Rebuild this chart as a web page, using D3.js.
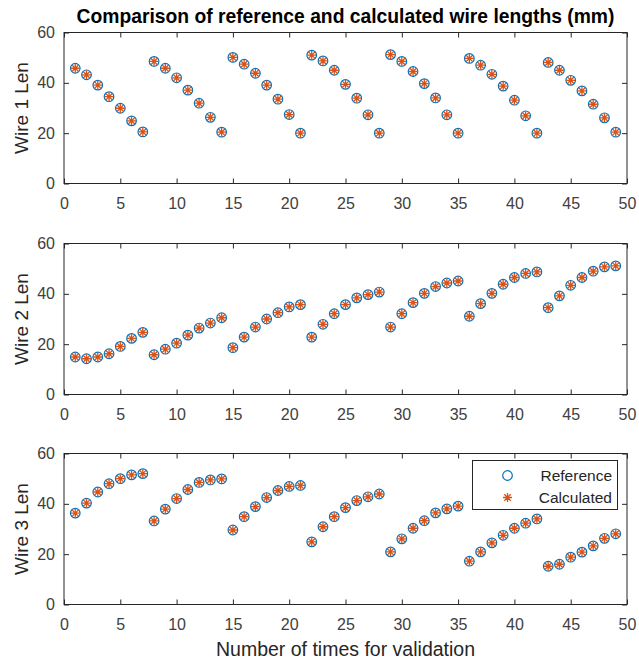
<!DOCTYPE html>
<html>
<head>
<meta charset="utf-8">
<script src="https://cdn.jsdelivr.net/npm/d3@7"></script>
<style>
  body { margin: 0; background: #fff; }
  svg { font-family: "Liberation Sans", Arial, sans-serif; }
  .tick text { fill: #404040; font-size: 16px; }
  .tick line { stroke: #262626; }
</style>
</head>
<body>
<svg width="639" height="665"></svg>
<script>
// wire lengths per validation run (1..49), reference and calculated overlap
var wire1 = [45.8, 43.2, 39.1, 34.5, 29.9, 24.9, 20.5,
             48.5, 45.8, 42.0, 37.1, 31.9, 26.3, 20.4,
             50.1, 47.4, 43.8, 39.1, 33.5, 27.4, 20.0,
             51.0, 48.7, 45.0, 39.4, 33.9, 27.3, 20.0,
             51.2, 48.5, 44.5, 39.7, 34.0, 27.3, 20.0,
             49.7, 47.0, 43.4, 38.7, 33.1, 26.9, 20.0,
             48.1, 45.0, 41.0, 36.8, 31.5, 26.1, 20.4];
var wire2 = [14.9, 14.2, 14.9, 16.2, 19.1, 22.3, 24.7,
             15.8, 18.0, 20.4, 23.6, 26.4, 28.4, 30.5,
             18.6, 22.8, 26.8, 30.0, 32.5, 34.8, 35.7,
             22.8, 27.9, 32.1, 35.7, 38.4, 39.7, 40.7,
             26.8, 32.1, 36.5, 40.2, 42.9, 44.3, 45.1,
             31.1, 36.1, 40.2, 43.8, 46.5, 48.1, 48.7,
             34.5, 39.2, 43.4, 46.5, 49.0, 50.7, 51.1];
var wire3 = [36.3, 40.3, 44.7, 48.0, 50.0, 51.5, 52.0,
             33.2, 37.9, 42.1, 45.7, 48.5, 49.5, 49.9,
             29.6, 34.9, 38.9, 42.5, 45.3, 46.9, 47.3,
             24.9, 30.9, 34.9, 38.5, 41.3, 42.8, 43.9,
             20.9, 26.1, 30.3, 33.3, 36.4, 38.0, 39.1,
             17.2, 20.9, 24.5, 27.5, 30.3, 32.3, 34.0,
             15.2, 16.0, 18.8, 20.8, 23.3, 26.3, 28.1];
var reference = [wire1, wire2, wire3];
var calculated = [wire1.slice(), wire2.slice(), wire3.slice()];
var panelLabels = ['Wire 1 Len', 'Wire 2 Len', 'Wire 3 Len'];
var xTicks = [0, 5, 10, 15, 20, 25, 30, 35, 40, 45, 50];
var yTicks = [0, 20, 40, 60];
var legendNames = ['Reference', 'Calculated'];

var blue = '#0072BD', orange = '#D95319', ink = '#262626';

var svg = d3.select('svg');
var left = 64, right = 627, ph = 151;
var tops = [32.5, 243.5, 453.5];

var x = d3.scaleLinear().domain([0, 50]).range([left, right]);

function star(s) {
  var k = s * 0.72;
  return 'M' + (-s) + ',0L' + s + ',0M0,' + (-s) + 'L0,' + s +
    'M' + (-k) + ',' + (-k) + 'L' + k + ',' + k + 'M' + (-k) + ',' + k + 'L' + k + ',' + (-k);
}

tops.forEach(function(top, p) {
  var y = d3.scaleLinear().domain([0, 60]).range([top + ph, top]);
  var g = svg.append('g');

  g.append('g').attr('transform', 'translate(0,' + (top + ph) + ')')
    .call(d3.axisBottom(x).tickValues(xTicks).tickSize(-5).tickSizeOuter(0).tickPadding(14))
    .call(function(a) { a.select('.domain').remove(); });
  g.append('g').attr('transform', 'translate(0,' + top + ')')
    .call(d3.axisTop(x).tickValues(xTicks).tickSize(-5).tickSizeOuter(0).tickFormat(''))
    .call(function(a) { a.select('.domain').remove(); });
  g.append('g').attr('transform', 'translate(' + left + ',0)')
    .call(d3.axisLeft(y).tickValues(yTicks).tickSize(-5).tickSizeOuter(0).tickPadding(9))
    .call(function(a) { a.select('.domain').remove(); });
  g.append('g').attr('transform', 'translate(' + right + ',0)')
    .call(d3.axisRight(y).tickValues(yTicks).tickSize(-5).tickSizeOuter(0).tickFormat(''))
    .call(function(a) { a.select('.domain').remove(); });

  g.selectAll('.tick text').attr('font-family', null).attr('font-size', null);

  g.append('rect')
    .attr('x', left).attr('y', top).attr('width', right - left).attr('height', ph)
    .attr('fill', 'none').attr('stroke', ink).attr('stroke-width', 1);

  g.append('g').selectAll('circle')
    .data(reference[p])
    .enter().append('circle')
      .attr('cx', function(d, i) { return x(i + 1); })
      .attr('cy', function(d) { return y(d); })
      .attr('r', 4.8)
      .attr('fill', 'none').attr('stroke', blue).attr('stroke-width', 1.2);

  g.append('g').selectAll('path')
    .data(calculated[p])
    .enter().append('path')
      .attr('transform', function(d, i) { return 'translate(' + x(i + 1) + ',' + y(d) + ')'; })
      .attr('d', star(4.5))
      .attr('stroke', orange).attr('stroke-width', 1.3).attr('fill', 'none');

  g.append('text')
    .attr('transform', 'translate(27.5,' + (top + ph / 2) + ') rotate(-90)')
    .attr('text-anchor', 'middle')
    .attr('fill', ink).attr('font-size', '19px')
    .text(panelLabels[p]);
});

svg.append('text')
  .attr('x', (left + right) / 2).attr('y', 23)
  .attr('text-anchor', 'middle').attr('font-weight', 'bold')
  .attr('font-size', '19.3px').attr('fill', '#000')
  .text('Comparison of reference and calculated wire lengths (mm)');

svg.append('text')
  .attr('x', (left + right) / 2).attr('y', 656)
  .attr('text-anchor', 'middle')
  .attr('font-size', '19.5px').attr('fill', ink)
  .text('Number of times for validation');

// legend
var lg = svg.append('g');
lg.append('rect')
  .attr('x', 472.5).attr('y', 460.5).attr('width', 145).attr('height', 49)
  .attr('fill', '#fff').attr('stroke', ink).attr('stroke-width', 1);
lg.append('circle')
  .attr('cx', 507.5).attr('cy', 475.5).attr('r', 4.8)
  .attr('fill', 'none').attr('stroke', blue).attr('stroke-width', 1.2);
lg.append('path')
  .attr('transform', 'translate(507.5,497.5)')
  .attr('d', star(4.5))
  .attr('stroke', orange).attr('stroke-width', 1.3).attr('fill', 'none');
lg.selectAll('text')
  .data(legendNames)
  .enter().append('text')
    .attr('x', 612).attr('y', function(d, i) { return 481 + i * 22; })
    .attr('text-anchor', 'end')
    .attr('font-size', '15.5px').attr('fill', ink)
    .text(function(d) { return d; });
</script>
</body>
</html>
